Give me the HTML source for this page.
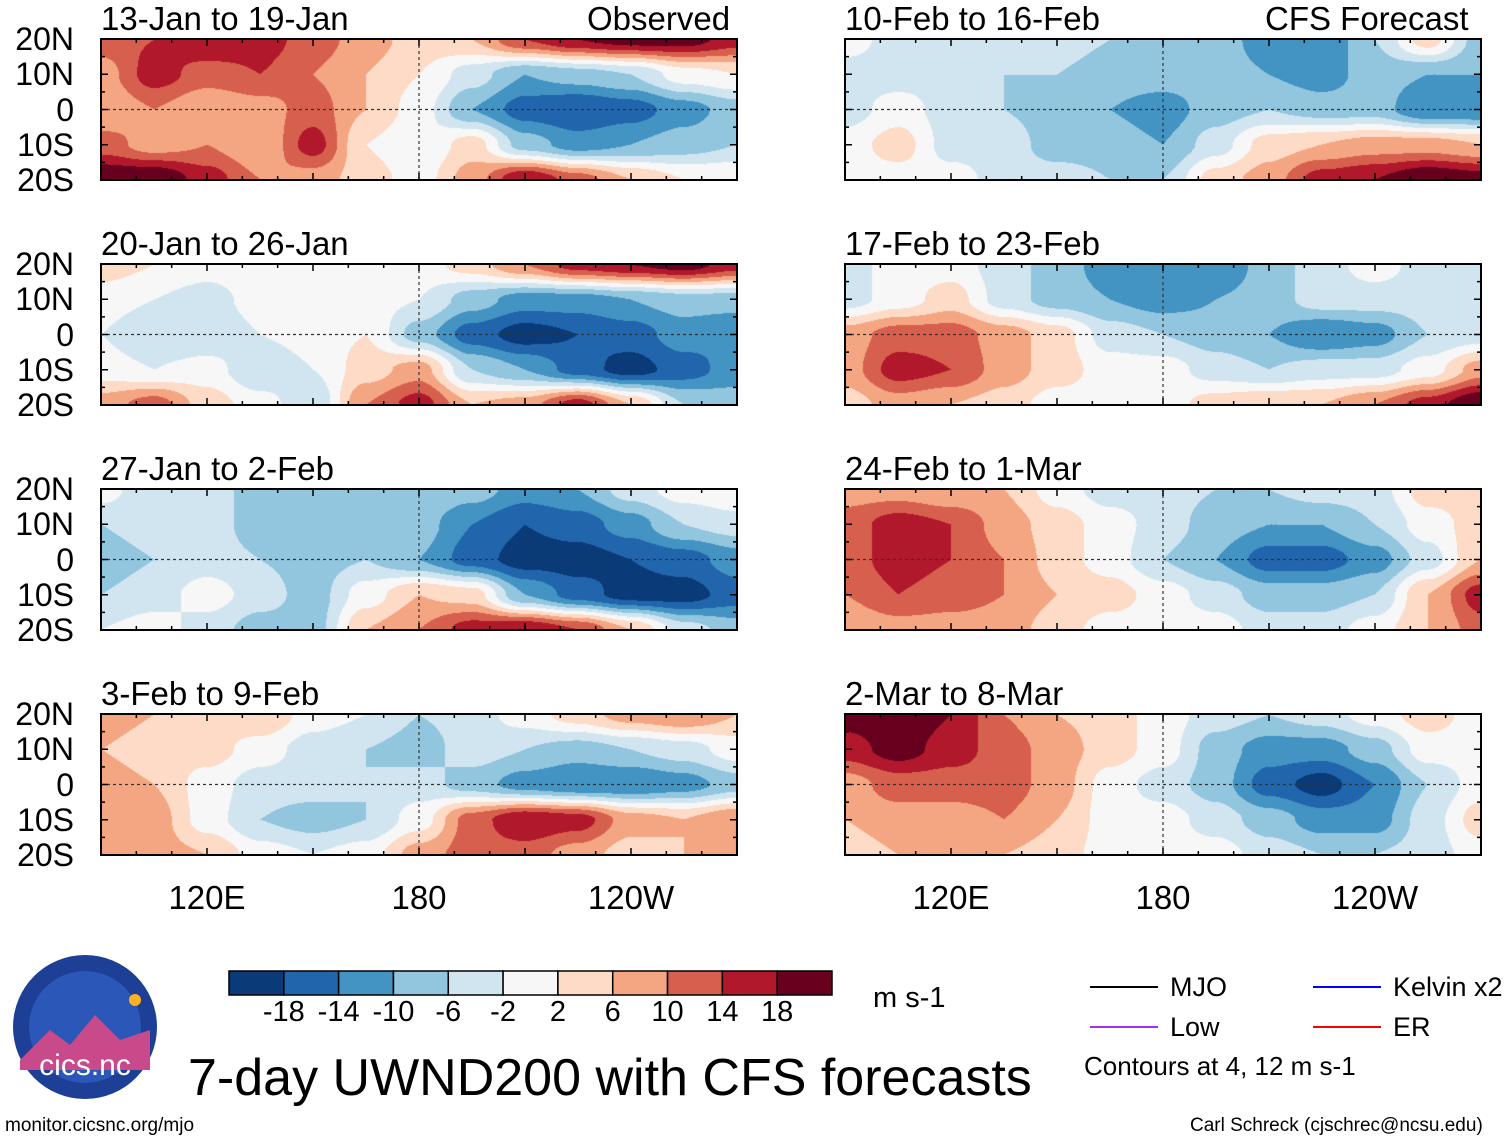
<!DOCTYPE html>
<html><head><meta charset="utf-8">
<style>
body{margin:0;background:#fff;}
#page{position:relative;width:1510px;height:1142px;overflow:hidden;background:#fff;font-family:"Liberation Sans",sans-serif;color:#000;}
.t{position:absolute;white-space:nowrap;}
.ttl{font-size:33px;line-height:33px;}
.ylab{font-size:32px;line-height:32px;text-align:right;width:74px;}
.xlab{font-size:33px;line-height:33px;width:140px;text-align:center;}
canvas{position:absolute;}
svg{position:absolute;left:0;top:0;}
</style></head><body>
<div id="page">
<svg id="ov" width="1510" height="1142"></svg>
</div>
<script>
const lons=[90,105,120,135,150,165,180,195,210,225,240,255,270];
const lats=[20,10,0,-10,-20];
const levels=[-18,-14,-10,-6,-2,2,6,10,14,18];
const colors=["#0b3a78","#2166ac","#4393c3","#92c5de","#d1e5f0","#f7f7f7","#fddbc7","#f4a582","#d6604d","#b2182b","#67001f"];
const titles=["13-Jan to 19-Jan","20-Jan to 26-Jan","27-Jan to 2-Feb","3-Feb to 9-Feb","10-Feb to 16-Feb","17-Feb to 23-Feb","24-Feb to 1-Mar","2-Mar to 8-Mar"];
const p1=[[12,14,18,16,12,8,4,6,14,18,20,20,16],[8,16,12,14,10,6,2,-4,-10,-8,-6,0,2],[6,10,6,8,12,6,0,-10,-16,-18,-16,-12,-8],[12,8,10,6,16,2,-2,4,-8,-12,-10,-8,-6],[22,22,16,10,8,4,0,8,18,12,6,2,2]];
const p2=[[4,2,0,2,0,0,0,4,10,16,18,20,16],[0,-2,-4,0,2,0,-2,-8,-12,-12,-10,-8,-8],[-2,-6,-6,-2,0,2,-8,-16,-20,-18,-16,-12,-14],[0,-2,0,-6,-2,4,8,-6,-10,-16,-20,-16,-12],[8,12,4,0,-6,10,16,6,8,16,6,-6,-8]];
const p3=[[0,-6,-4,-8,-6,-8,-6,-8,-12,-10,-4,0,2],[-6,-4,-4,-8,-8,-6,-8,-14,-18,-16,-12,-6,-4],[-8,-6,-4,-6,-8,-6,-10,-16,-20,-20,-18,-16,-12],[-6,-4,0,-4,-8,0,6,4,-10,-16,-20,-20,-16],[-2,0,-4,-8,-8,6,10,16,18,14,6,-4,-8]];
const p4=[[8,6,4,6,0,-2,-6,-4,0,4,8,10,6],[6,4,4,0,-4,-6,-8,-4,-6,-8,-6,-4,0],[8,6,0,-4,-4,-6,-4,-8,-12,-14,-14,-12,-8],[6,8,0,-6,-8,-6,0,12,18,16,8,6,10],[6,8,6,0,-2,0,8,12,12,8,4,6,10]];
const p5=[[0,-4,-4,-6,-4,-6,-6,-8,-12,-14,-6,4,-8],[-4,-4,-4,-6,-6,-8,-8,-8,-10,-12,-8,-10,-10],[-4,0,-4,-6,-8,-10,-12,-8,-6,-8,-8,-14,-14],[0,4,-4,-4,-8,-8,-10,-4,4,6,8,8,6],[0,0,0,-4,-4,-6,-6,4,8,16,18,22,20]];
const p6=[[-4,0,0,-4,-8,-12,-12,-14,-8,-4,0,-4,-4],[-4,0,4,-4,-8,-10,-12,-10,-8,-4,-4,-4,-4],[8,12,12,8,4,-4,-6,-8,-10,-14,-12,-6,-4],[8,16,14,8,4,0,0,-4,-6,-4,-4,0,8],[4,8,6,4,0,0,0,4,6,6,10,16,22]];
const p7=[[8,8,6,6,0,-4,-4,-6,-6,-4,-4,4,4],[12,16,14,8,4,0,-4,-8,-10,-10,-6,0,4],[12,16,14,10,4,0,-6,-10,-16,-16,-12,-4,6],[10,14,12,10,6,4,0,-4,-8,-8,-6,6,16],[6,8,8,8,4,0,0,0,-4,-4,0,6,12]];
const p8=[[20,22,18,10,6,4,0,-4,-6,-4,0,4,0],[16,20,16,12,8,4,0,-8,-12,-12,-8,0,0],[8,12,12,12,8,0,-4,-8,-16,-20,-14,-6,0],[6,8,8,10,6,0,0,-4,-8,-12,-12,-4,4],[4,6,8,6,4,0,0,0,-4,-6,-6,-4,0]];
const panels=[p1,p2,p3,p4,p5,p6,p7,p8];
const ylabels=["20N","10N","0","10S","20S"];
const xlabels=["120E","180","120W"];
const xlabLons=[120,180,240];

const page=document.getElementById('page');
const ov=document.getElementById('ov');
const W=636,H=141,colX=[101,845],rowY=[39,264,489,714];
const NS='http://www.w3.org/2000/svg';
function xs(lon,x0){return x0+(lon-90)/180*W;}
function ys(lat,y0){return y0+(20-lat)/40*H;}
function colorOf(v){let i=0;while(i<levels.length&&v>=levels[i])i++;return colors[i];}
function line(x1,y1,x2,y2,st,w,dash){const l=document.createElementNS(NS,'line');l.setAttribute('x1',x1);l.setAttribute('y1',y1);l.setAttribute('x2',x2);l.setAttribute('y2',y2);l.setAttribute('stroke',st);l.setAttribute('stroke-width',w);if(dash)l.setAttribute('stroke-dasharray',dash);ov.appendChild(l);return l;}
function txt(s,x,y,cls,name){const d=document.createElement('div');d.className='t '+cls;d.style.left=x+'px';d.style.top=y+'px';d.textContent=s;


page.appendChild(d);return d;}
function val(g,lon,lat){
  let fx=(lon-90)/15, fy=(20-lat)/10;
  let i=Math.min(Math.floor(fx),11), j=Math.min(Math.floor(fy),3);
  let tx=fx-i, ty=fy-j;
  tx=tx*tx*(3-2*tx); ty=ty*ty*(3-2*ty);
  const a=g[j][i],b=g[j][i+1],c=g[j+1][i],d=g[j+1][i+1];
  return (a*(1-tx)+b*tx)*(1-ty)+(c*(1-tx)+d*tx)*ty;
}
function rgb(h){return [parseInt(h.substr(1,2),16),parseInt(h.substr(3,2),16),parseInt(h.substr(5,2),16)];}
panels.forEach((g,k)=>{
  const col=k<4?0:1,row=k%4,x0=colX[col],y0=rowY[row];
  const cv=document.createElement('canvas');cv.width=W;cv.height=H;cv.style.left=x0+'px';cv.style.top=y0+'px';
  
  
  page.insertBefore(cv,ov);
  const ctx=cv.getContext('2d');const im=ctx.createImageData(W,H);
  for(let py=0;py<H;py++){const lat=20-py/(H-1)*40;for(let px=0;px<W;px++){const lon=90+px/(W-1)*180;
    const c=rgb(colorOf(val(g,lon,lat)));const o=(py*W+px)*4;im.data[o]=c[0];im.data[o+1]=c[1];im.data[o+2]=c[2];im.data[o+3]=255;}}
  ctx.putImageData(im,0,0);
  const r=document.createElementNS(NS,'rect');r.setAttribute('x',x0);r.setAttribute('y',y0);r.setAttribute('width',W);r.setAttribute('height',H);r.setAttribute('fill','none');r.setAttribute('stroke','#000');r.setAttribute('stroke-width',2);ov.appendChild(r);
  line(x0,ys(0,y0),x0+W,ys(0,y0),'#333',1.2,'3,3');
  line(xs(180,x0),y0,xs(180,x0),y0+H,'#333',1.2,'3,3');
  for(let lon=90;lon<=270;lon+=10){const x=xs(lon,x0);const L=lon%30===0?7:4;line(x,y0,x,y0+L,'#000',1.5);line(x,y0+H,x,y0+H-L,'#000',1.5);}
  for(let lat=-20;lat<=20;lat+=5){const y=ys(lat,y0);const L=lat%10===0?7:4;line(x0,y,x0+L,y,'#000',1.5);line(x0+W,y,x0+W-L,y,'#000',1.5);}
  txt(titles[k],x0,y0-37,'ttl','panel-title-'+(k+1));
  if(col===0){lats.forEach((lat,i)=>txt(ylabels[i],0,ys(lat,y0)-16,'ylab','y-label-'+ylabels[i].toLowerCase()));}
});
txt("Observed",587,2,'ttl','observed-label');
txt("CFS Forecast",1265,2,'ttl','cfs-forecast-label');
[0,1].forEach(c=>xlabLons.forEach((lon,i)=>txt(xlabels[i],xs(lon,colX[c])-70,881,'xlab','x-label-'+xlabels[i].toLowerCase())));
const cbx=229,cby=971,cbw=603/11;
colors.forEach((c,i)=>{const r=document.createElementNS(NS,'rect');r.setAttribute('x',cbx+i*cbw);r.setAttribute('y',cby);r.setAttribute('width',cbw);r.setAttribute('height',24);r.setAttribute('fill',c);r.setAttribute('stroke','#000');r.setAttribute('stroke-width',1.5);


ov.appendChild(r);});
levels.forEach((l,i)=>{const d=txt(String(l),cbx+(i+1)*cbw-30,996,'','colorbar-label');d.style.fontSize='29px';d.style.width='60px';d.style.textAlign='center';});
const u=txt("m s-1",873,982,'','units-label');u.style.fontSize='29px';
const tt=txt("7-day UWND200 with CFS forecasts",188,1048,'','main-title');tt.style.fontSize='52px';
const leg=[["MJO","#000",1090,987],["Low","#9b30ff",1090,1027],["Kelvin x2","#0000ff",1313,987],["ER","#ff0000",1313,1027]];
leg.forEach(e=>{const l=line(e[2],e[3],e[2]+68,e[3],e[1],2);

const d=txt(e[0],e[2]+80,e[3]-15,'','legend-entry');d.style.fontSize='27px';});
const ct=txt("Contours at 4, 12 m s-1",1084,1051,'','contours-note');ct.style.fontSize='26px';
const f1=txt("monitor.cicsnc.org/mjo",5,1115,'','footer-url');f1.style.fontSize='19px';
const f2=txt("Carl Schreck (cjschrec@ncsu.edu)",1190,1115,'','footer-author');f2.style.fontSize='19px';
const lg=document.createElementNS(NS,'g');
lg.innerHTML='<circle cx="85" cy="1027" r="72" fill="#1d3f95"/><circle cx="85" cy="1027" r="56" fill="#2a57b8"/><path d="M20 1060 L50 1030 L70 1045 L95 1015 L120 1040 L150 1030 L150 1070 L20 1070Z" fill="#c84a8a"/><circle cx="135" cy="1000" r="6" fill="#ffb020"/><text x="85" y="1075" font-size="30" fill="#fff" text-anchor="middle" font-family="Liberation Sans,sans-serif">cics.nc</text>';
ov.appendChild(lg);
</script>
</body></html>
